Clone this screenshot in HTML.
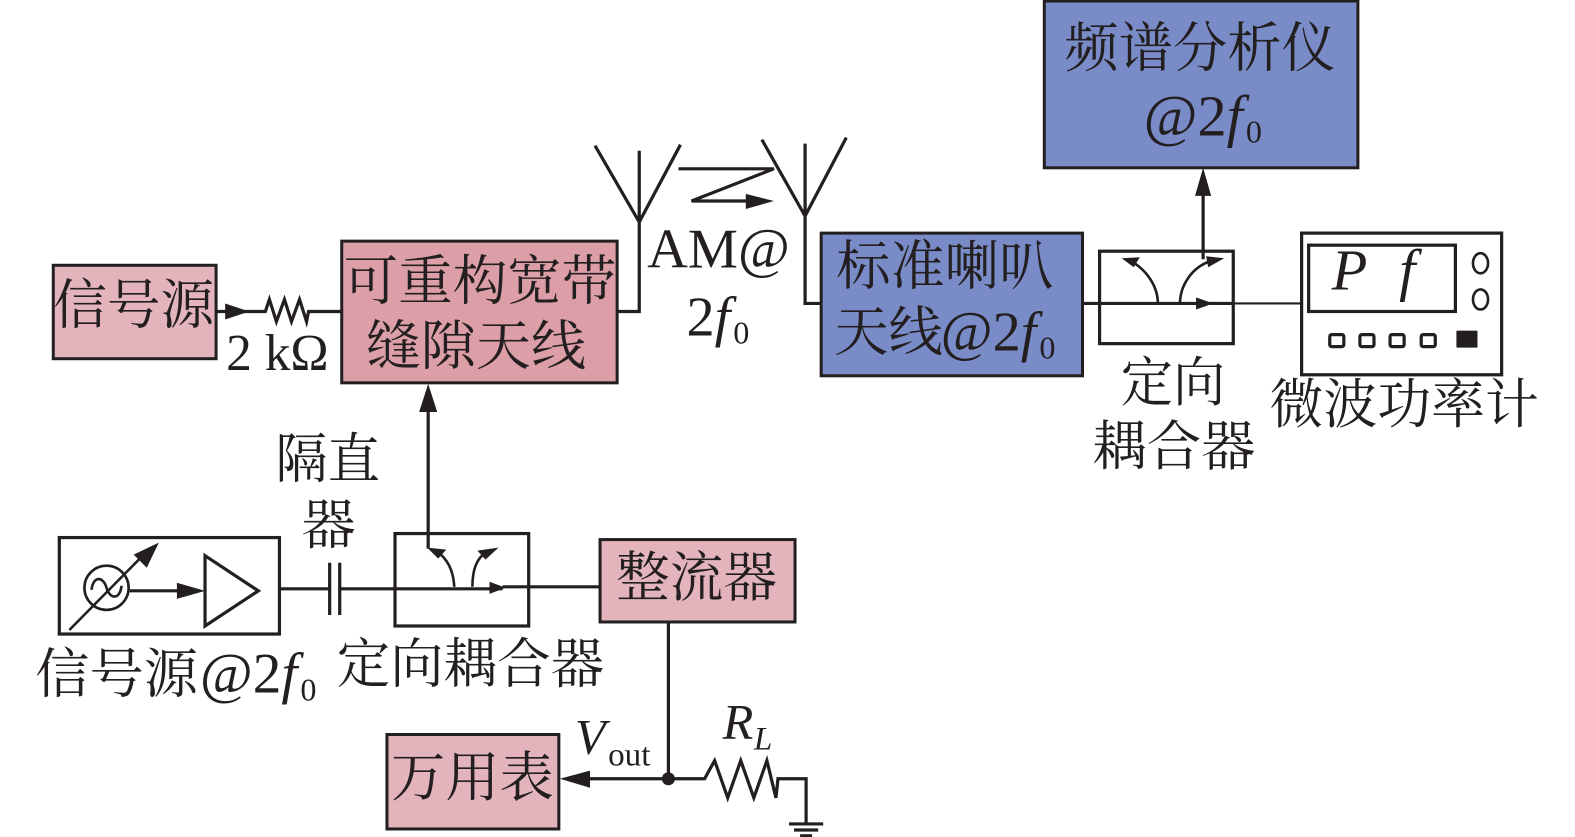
<!DOCTYPE html>
<html><head><meta charset="utf-8"><style>
html,body{margin:0;padding:0;background:#fff}
svg{display:block}
text{font-family:"Liberation Serif","Noto Serif CJK SC",serif;fill:#231f20}
.c{font-size:54px}
.i{font-style:italic}
.l{fill:none;stroke:#231f20;stroke-width:3.2}
.t{fill:none;stroke:#231f20;stroke-width:2.6}
.a{fill:#231f20;stroke:none}
</style></head><body>
<svg width="1575" height="837" viewBox="0 0 1567 833" preserveAspectRatio="none" xmlns="http://www.w3.org/2000/svg">
<!-- boxes -->
<rect x="1039" y="1" width="312" height="166" fill="#7a8cc8" stroke="#231f20" stroke-width="3"/>
<rect x="817" y="232" width="260" height="142" fill="#7a8cc8" stroke="#231f20" stroke-width="3"/>
<rect x="53" y="264" width="162" height="93" fill="#e3b4bc" stroke="#231f20" stroke-width="3"/>
<rect x="340" y="240" width="274" height="141" fill="#dc9fa8" stroke="#231f20" stroke-width="3"/>
<rect x="597" y="537" width="194" height="82" fill="#e3b4bc" stroke="#231f20" stroke-width="3"/>
<rect x="385" y="731" width="171" height="94" fill="#e3b4bc" stroke="#231f20" stroke-width="3"/>
<rect x="59" y="535" width="219" height="96" class="l"/>
<rect x="393" y="531" width="133" height="92" class="l"/>
<rect x="1094" y="250" width="133" height="92" class="l"/>
<rect x="1295" y="232" width="199" height="141" class="l"/>
<rect x="1302" y="244" width="146" height="66" class="l"/>

<!-- meter details -->
<ellipse cx="1473" cy="262" rx="7.5" ry="10" class="t"/>
<ellipse cx="1473" cy="298" rx="7.5" ry="10" class="t"/>
<rect x="1323" y="333" width="14" height="12" rx="2" class="l"/>
<rect x="1353" y="333" width="14" height="12" rx="2" class="l"/>
<rect x="1383" y="333" width="14" height="12" rx="2" class="l"/>
<rect x="1414" y="333" width="14" height="12" rx="2" class="l"/>
<rect x="1449" y="329" width="21" height="17" rx="1" class="a"/>
<text x="1325" y="288" font-size="58" class="i">P</text>
<text x="1392" y="288" font-size="58" class="i">f</text>

<!-- source icon -->
<circle cx="106" cy="585" r="22" class="t"/>
<path class="t" d="M91 587 C93 572 103 574 106 585 C109 596 119 598 121 583"/>
<path class="t" d="M69 627 L140 555"/>
<polygon class="a" points="158,540 146,565 133,552"/>
<path class="l" d="M129 588 H180"/>
<polygon class="a" points="204,588 176,580 176,596"/>
<polygon class="l" points="204,553 257,588 204,623"/>

<!-- capacitor & line -->
<path class="l" d="M279 586 H327 M339 586 H393"/>
<path class="l" d="M328 560 V612 M338 560 V612"/>

<!-- lower coupler -->
<path class="l" d="M393 586 H500 M500 584 H597"/>
<polygon class="a" points="503,585 487,579 487,591"/>
<path class="t" d="M452 584 C451 567 445 556 434 548"/>
<polygon class="a" points="425,545 444,547 436,556"/>
<path class="t" d="M470 584 C470 567 474 556 484 549"/>
<polygon class="a" points="496,545 483,557 475,548"/>
<path class="l" d="M426 546 V408"/>
<polygon class="a" points="426,382 417,410 435,410"/>

<!-- rectifier down -->
<path class="l" d="M665 619 V775"/>
<circle cx="665" cy="775" r="6.5" class="a"/>
<path class="l" d="M583 775 H665"/>
<polygon class="a" points="557,775 587,767 587,784"/>
<path class="l" d="M665 775 H701 L711 757 L724 794 L737 757 L750 794 L763 757 L772 794 L774 775 H802 V820"/>
<path class="l" d="M785 820 H819 M790 826 H814"/>
<path d="M796 832 H808" stroke="#231f20" stroke-width="3.6"/>

<!-- top left resistor -->
<path class="l" d="M216 310 H245"/>
<polygon class="a" points="248,310 224,302 224,318"/>
<path class="l" d="M245 310 H264 L268 298 L275 320 L283 298 L290 320 L298 298 L305 320 L307 310 H340"/>

<!-- antennas -->
<path class="l" d="M614 310 H636 V150 M592 145 L636 221 L677 144"/>
<path class="l" d="M817 302 H801 V143 M758 139 L801 215 L842 137"/>
<path class="l" d="M675 168 H770 L688 200 H743"/>
<polygon class="a" points="770,200 742,193 742,208"/>

<!-- upper coupler -->
<path class="l" d="M1077 302 H1226"/>
<path d="M1226 302 H1295" stroke="#231f20" stroke-width="2.2"/>
<polygon class="a" points="1207,302 1190,296 1190,308"/>
<path class="t" d="M1152 302 C1152 284 1140 268 1124 259"/>
<polygon class="a" points="1116,257 1134,256 1128,266"/>
<path class="t" d="M1174 302 C1174 284 1186 266 1204 260"/>
<polygon class="a" points="1218,257 1202,266 1200,255"/>
<path class="l" d="M1197 258 V192"/>
<polygon class="a" points="1197,167 1189,195 1205,195"/>

<!-- labels -->
<g transform="translate(-2 0)">
<text x="1061" y="66" class="c" textLength="270" lengthAdjust="spacingAndGlyphs">频谱分析仪</text>
<text x="1140" y="135" font-size="58">@2<tspan class="i">f</tspan><tspan font-size="32" dx="3" dy="7">0</tspan></text>
<text x="834" y="283" class="c" textLength="216" lengthAdjust="spacingAndGlyphs">标准喇叭</text>
<text x="832" y="349" class="c" textLength="108" lengthAdjust="spacingAndGlyphs">天线</text>
<text x="938" y="349" font-size="56">@2<tspan class="i">f</tspan><tspan font-size="32" dx="3" dy="8">0</tspan></text>
<text x="55" y="322" class="c" textLength="160" lengthAdjust="spacingAndGlyphs">信号源</text>
<text x="227" y="368" font-size="52" textLength="102" lengthAdjust="spacingAndGlyphs">2 kΩ</text>
<text x="344" y="298" class="c" textLength="271" lengthAdjust="spacingAndGlyphs">可重构宽带</text>
<text x="366" y="363" class="c" textLength="219" lengthAdjust="spacingAndGlyphs">缝隙天线</text>
<text x="646" y="266" font-size="56">AM@</text>
<text x="685" y="334" font-size="56">2<tspan class="i">f</tspan><tspan font-size="32" dx="3" dy="8">0</tspan></text>
<text x="276" y="475" class="c" textLength="104" lengthAdjust="spacingAndGlyphs">隔直</text>
<text x="302" y="541" class="c">器</text>
<text x="615" y="593" class="c" textLength="160" lengthAdjust="spacingAndGlyphs">整流器</text>
<text x="37" y="689" class="c" textLength="162" lengthAdjust="spacingAndGlyphs">信号源</text>
<text x="201" y="689" font-size="57">@2<tspan class="i">f</tspan><tspan font-size="32" dx="3" dy="8">0</tspan></text>
<text x="337" y="679" class="c" textLength="266" lengthAdjust="spacingAndGlyphs">定向耦合器</text>
<text x="391" y="792" class="c" textLength="162" lengthAdjust="spacingAndGlyphs">万用表</text>
<text x="574" y="750" font-size="50" class="i">V</text>
<text x="607" y="762" font-size="33">out</text>
<text x="721" y="735" font-size="50" class="i">R</text>
<text x="752" y="746" font-size="33" class="i">L</text>
<text x="1117" y="399" class="c" textLength="104" lengthAdjust="spacingAndGlyphs">定向</text>
<text x="1089" y="463" class="c" textLength="162" lengthAdjust="spacingAndGlyphs">耦合器</text>
<text x="1265" y="421" class="c" textLength="268" lengthAdjust="spacingAndGlyphs">微波功率计</text>
</g>
</svg>
</body></html>
